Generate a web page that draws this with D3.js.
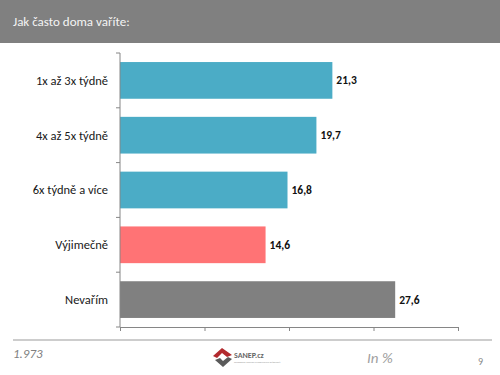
<!DOCTYPE html>
<html>
<head>
<meta charset="utf-8">
<script src="https://cdn.jsdelivr.net/npm/d3@7"></script>
<style>
  body { margin: 0; background: #fff; }
  svg { display: block; font-family: Calibri, Carlito, "Open Sans", sans-serif; }
</style>
</head>
<body>
<div id="chart-wrapper"></div>
<script>
// data
var categories = ['1x až 3x týdně', '4x až 5x týdně', '6x týdně a více', 'Výjimečně', 'Nevařím'];
var values = [21.3, 19.7, 16.8, 14.6, 27.6];
var bar_colors = ['#4bacc6', '#4bacc6', '#4bacc6', '#ff7375', '#808080'];
var axis_max = 33.9; // x axis runs a bit past the longest bar, labels hidden

var total_width = 500, total_height = 375;
var margin = {top: 53, left: 120, right: 42, bottom: 48};
var draw_width = total_width - margin.left - margin.right;
var chart_height = total_height - margin.top - margin.bottom;

var svg = d3.select('#chart-wrapper').append('svg')
    .attr('width', total_width)
    .attr('height', total_height);

// header bar
svg.append('rect')
    .attr('width', total_width).attr('height', 43)
    .attr('fill', '#808080');
svg.append('text')
    .attr('x', 13).attr('y', 26)
    .attr('fill', '#f4f4f4')
    .style('font-size', '13px')
    .style('font-weight', 300)
    .text('Jak často doma vaříte:');

var draw_area = svg.append('g')
    .attr('transform', 'translate(' + margin.left + ',' + margin.top + ')');

var scale_y = d3.scaleBand()
    .domain(categories)
    .range([0, chart_height])
    .paddingInner(0.33)
    .paddingOuter(0.165);

var scale_x = d3.scaleLinear()
    .domain([0, axis_max])
    .range([0, draw_width]);

var rows = categories.map(function(c, i) {
    return {cat: c, value: values[i], color: bar_colors[i]};
});

draw_area.selectAll('rect.bar')
    .data(rows)
    .enter()
  .append('rect')
    .attr('class', 'bar')
    .attr('x', 0)
    .attr('y', function(d) { return scale_y(d.cat); })
    .attr('width', function(d) { return scale_x(d.value); })
    .attr('height', scale_y.bandwidth())
    .attr('fill', function(d) { return d.color; });

draw_area.selectAll('text.value')
    .data(rows)
    .enter()
  .append('text')
    .attr('class', 'value')
    .attr('x', function(d) { return scale_x(d.value) + 4; })
    .attr('y', function(d) { return scale_y(d.cat) + scale_y.bandwidth() / 2; })
    .attr('dy', '0.35em')
    .style('font-size', '11.5px')
    .style('font-weight', 'bold')
    .attr('fill', '#111')
    .text(function(d) { return d3.format('.1f')(d.value).replace('.', ','); });

// y axis: ticks between bands
var axis_y = draw_area.append('g').attr('class', 'axis');
axis_y.append('line')
    .attr('x1', 0).attr('x2', 0).attr('y1', 0).attr('y2', chart_height)
    .attr('stroke', '#868686');
var step = scale_y.step();
axis_y.selectAll('line.tick')
    .data(d3.range(categories.length + 1))
    .enter()
  .append('line')
    .attr('x1', -4).attr('x2', 0)
    .attr('y1', function(i) { return i * step; })
    .attr('y2', function(i) { return i * step; })
    .attr('stroke', '#868686');
axis_y.selectAll('text')
    .data(categories)
    .enter()
  .append('text')
    .attr('x', -12)
    .attr('y', function(d) { return scale_y(d) + scale_y.bandwidth() / 2; })
    .attr('dy', '0.35em')
    .attr('text-anchor', 'end')
    .style('font-size', '12.5px')
    .attr('fill', '#1a1a1a')
    .text(function(d) { return d; });

// x axis without labels
var axis_x = d3.axisBottom(scale_x)
    .tickValues(d3.range(5).map(function(i) { return axis_max * i / 4; }))
    .tickFormat('')
    .tickSizeInner(4)
    .tickSizeOuter(0);
var gx = draw_area.append('g')
    .attr('transform', 'translate(0,' + chart_height + ')')
    .call(axis_x);
gx.selectAll('path, line').attr('stroke', '#868686');

// footer
svg.append('line')
    .attr('x1', 13).attr('x2', 492).attr('y1', 340).attr('y2', 340)
    .attr('stroke', '#bdbdbd').attr('stroke-width', 1.5);
svg.append('text')
    .attr('x', 13).attr('y', 358)
    .style('font-size', '13px').style('font-style', 'italic')
    .attr('fill', '#7f7f7f')
    .text('1.973');
svg.append('text')
    .attr('x', 367).attr('y', 363)
    .style('font-size', '15px').style('font-style', 'italic')
    .style('font-weight', 300)
    .attr('fill', '#a0a0a0')
    .text('In %');
svg.append('text')
    .attr('x', 478).attr('y', 365)
    .style('font-size', '10px')
    .attr('fill', '#8a8a8a')
    .text('9');

// SANEP logo
var logo = svg.append('g').attr('transform', 'translate(213,347)');
logo.append('path')
    .attr('d', 'M0,9 L9,1 L19,8 L14,10 L9,6 L4,11 Z')
    .attr('fill', '#b22a2e');
logo.append('path')
    .attr('d', 'M2,13 L7,11 L10,14 L15,10 L19,12 L10,20 Z')
    .attr('fill', '#5a5a5a');
logo.append('text')
    .attr('x', 21).attr('y', 11)
    .style('font-size', '8px').style('font-weight', 'bold')
    .attr('fill', '#666')
    .text('SANEP.cz');
logo.append('text')
    .attr('x', 21).attr('y', 16)
    .style('font-size', '2.6px')
    .attr('fill', '#999')
    .text('Strategická analýza a empirických průzkumů');
</script>
</body>
</html>
